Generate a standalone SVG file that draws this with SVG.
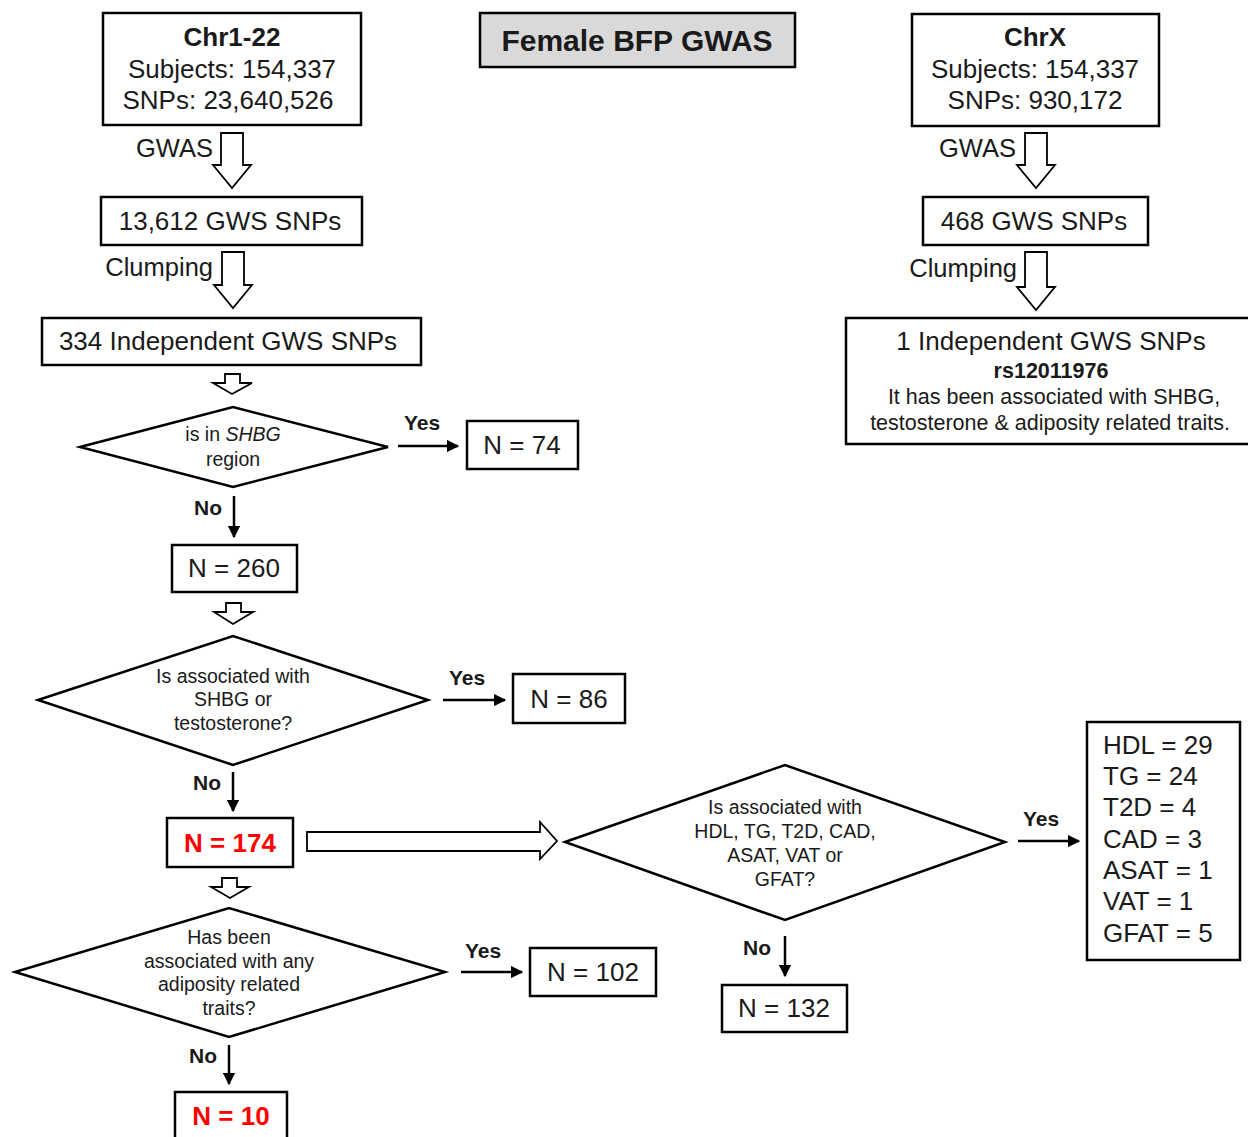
<svg xmlns="http://www.w3.org/2000/svg" width="1248" height="1137" viewBox="0 0 1248 1137">
<defs>
<marker id="ah" viewBox="0 0 10 10" refX="9" refY="5" markerWidth="5" markerHeight="5" orient="auto" markerUnits="strokeWidth">
<path d="M0,0 L10,5 L0,10 Z" fill="#000"/>
</marker>
</defs>
<style>
text{font-family:"Liberation Sans",Arial,sans-serif;fill:#1a1a1a}
.box{fill:#fff;stroke:#000;stroke-width:2.5}
.dia{fill:#fff;stroke:#000;stroke-width:2.5}
.big{font-size:26px;text-anchor:middle}
.lab{font-size:25.5px;text-anchor:end}
.dt{font-size:19.5px;text-anchor:middle}
.yn{font-size:21px;font-weight:bold}
.red{font-size:26px;font-weight:bold;fill:#ff0000;text-anchor:middle}
.ha{fill:#fff;stroke:#000;stroke-width:1.8}
.ln{stroke:#000;stroke-width:2.5;fill:none;marker-end:url(#ah)}
</style>
<rect width="1248" height="1137" fill="#fff"/>

<g id="title">
<rect x="480" y="13" width="315" height="54" fill="#d9d9d9" stroke="#000" stroke-width="2.5"/>
<text x="637" y="51" style="font-size:30px;font-weight:bold;text-anchor:middle">Female BFP GWAS</text>
</g>

<g id="chr122">
<rect class="box" x="103" y="13" width="258" height="112"/>
<text class="big" x="232" y="46" font-weight="bold">Chr1-22</text>
<text class="big" x="232" y="78">Subjects: 154,337</text>
<text class="big" x="228" y="109">SNPs: 23,640,526</text>
</g>

<g id="chrx">
<rect class="box" x="912" y="14" width="247" height="112"/>
<text class="big" x="1035" y="46" font-weight="bold">ChrX</text>
<text class="big" x="1035" y="78">Subjects: 154,337</text>
<text class="big" x="1035" y="109">SNPs: 930,172</text>
</g>

<g id="gws13612">
<rect class="box" x="101" y="197" width="261" height="48"/>
<text class="big" x="230" y="230">13,612 GWS SNPs</text>
</g>

<g id="gws468">
<rect class="box" x="923" y="197" width="225" height="48"/>
<text class="big" x="1034" y="230">468 GWS SNPs</text>
</g>

<g id="ind334">
<rect class="box" x="42" y="318" width="379" height="47"/>
<text class="big" x="228" y="350">334 Independent GWS SNPs</text>
</g>

<g id="ind1">
<rect class="box" x="846" y="318" width="410" height="126"/>
<text class="big" x="1051" y="350">1 Independent GWS SNPs</text>
<text x="1051" y="378" style="font-size:21.5px;font-weight:bold;text-anchor:middle">rs12011976</text>
<text x="1054" y="404" style="font-size:21.5px;text-anchor:middle">It has been associated with SHBG,</text>
<text x="1050" y="430" style="font-size:21.5px;text-anchor:middle">testosterone &amp; adiposity related traits.</text>
</g>

<g id="d1">
<polygon class="dia" points="80,447 233,407 388,447 233,487"/>
<text class="dt" x="233" y="441">is in <tspan font-style="italic">SHBG</tspan></text>
<text class="dt" x="233" y="466">region</text>
</g>

<g id="n74">
<rect class="box" x="467" y="421" width="111" height="48"/>
<text class="big" x="522" y="454">N = 74</text>
</g>

<g id="n260">
<rect class="box" x="172" y="545" width="125" height="47"/>
<text class="big" x="234" y="577">N = 260</text>
</g>

<g id="d2">
<polygon class="dia" points="38,700 233,636 428,700 233,765"/>
<text class="dt" x="233" y="683">Is associated with</text>
<text class="dt" x="233" y="706">SHBG or</text>
<text class="dt" x="233" y="730">testosterone?</text>
</g>

<g id="n86">
<rect class="box" x="513" y="674" width="112" height="49"/>
<text class="big" x="569" y="708">N = 86</text>
</g>

<g id="n174">
<rect class="box" x="167" y="818" width="126" height="49"/>
<text class="red" x="230" y="852">N = 174</text>
</g>

<g id="d3">
<polygon class="dia" points="565,842 785,765 1005,842 785,920"/>
<text class="dt" x="785" y="814">Is associated with</text>
<text class="dt" x="785" y="838">HDL, TG, T2D, CAD,</text>
<text class="dt" x="785" y="862">ASAT, VAT or</text>
<text class="dt" x="785" y="886">GFAT?</text>
</g>

<g id="traits">
<rect class="box" x="1087" y="722" width="153" height="238"/>
<g style="font-size:26px">
<text x="1103" y="754">HDL = 29</text>
<text x="1103" y="785">TG = 24</text>
<text x="1103" y="816">T2D = 4</text>
<text x="1103" y="848">CAD = 3</text>
<text x="1103" y="879">ASAT = 1</text>
<text x="1103" y="910">VAT = 1</text>
<text x="1103" y="942">GFAT = 5</text>
</g>
</g>

<g id="n132">
<rect class="box" x="722" y="985" width="125" height="47"/>
<text class="big" x="784" y="1017">N = 132</text>
</g>

<g id="d4">
<polygon class="dia" points="15,972 229,908 445,972 229,1037"/>
<text class="dt" x="229" y="944">Has been</text>
<text class="dt" x="229" y="968">associated with any</text>
<text class="dt" x="229" y="991">adiposity related</text>
<text class="dt" x="229" y="1015">traits?</text>
</g>

<g id="n102">
<rect class="box" x="530" y="948" width="126" height="48"/>
<text class="big" x="593" y="981">N = 102</text>
</g>

<g id="n10">
<rect class="box" x="175" y="1092" width="112" height="50"/>
<text class="red" x="231" y="1125">N = 10</text>
</g>

<g id="connectors">
<polygon class="ha" points="221,133 243,133 243,165 251,165 232,188 213,165 221,165"/>
<polygon class="ha" points="222,252 244,252 244,285 252,285 233,308 214,285 222,285"/>
<polygon class="ha" points="1025,133 1047,133 1047,165 1055,165 1036,188 1017,165 1025,165"/>
<polygon class="ha" points="1025,252 1047,252 1047,287 1055,287 1036,310 1017,287 1025,287"/>
<polygon class="ha" points="225,374 240,374 240,383 252,383 232,394 213,383 225,383"/>
<polygon class="ha" points="226,603 241,603 241,612 253,612 233,624 214,612 226,612"/>
<polygon class="ha" points="222,878 237,878 237,887 249,887 230,898 211,887 222,887"/>
<polygon class="ha" points="307,832 540,832 540,822 557,841 540,859 540,851 307,851"/>
<text class="lab" x="213" y="157">GWAS</text>
<text class="lab" x="213" y="276">Clumping</text>
<text class="lab" x="1016" y="157">GWAS</text>
<text class="lab" x="1017" y="277">Clumping</text>
<line class="ln" x1="398" y1="446" x2="458" y2="446"/>
<text class="yn" x="404" y="430">Yes</text>
<line class="ln" x1="234" y1="496" x2="234" y2="537"/>
<text class="yn" x="194" y="515">No</text>
<line class="ln" x1="443" y1="700" x2="505" y2="700"/>
<text class="yn" x="449" y="685">Yes</text>
<line class="ln" x1="233" y1="772" x2="233" y2="811"/>
<text class="yn" x="193" y="790">No</text>
<line class="ln" x1="1018" y1="841" x2="1079" y2="841"/>
<text class="yn" x="1023" y="826">Yes</text>
<line class="ln" x1="785" y1="936" x2="785" y2="976"/>
<text class="yn" x="743" y="955">No</text>
<line class="ln" x1="461" y1="972" x2="522" y2="972"/>
<text class="yn" x="465" y="958">Yes</text>
<line class="ln" x1="229" y1="1045" x2="229" y2="1084"/>
<text class="yn" x="189" y="1063">No</text>
</g>
</svg>
